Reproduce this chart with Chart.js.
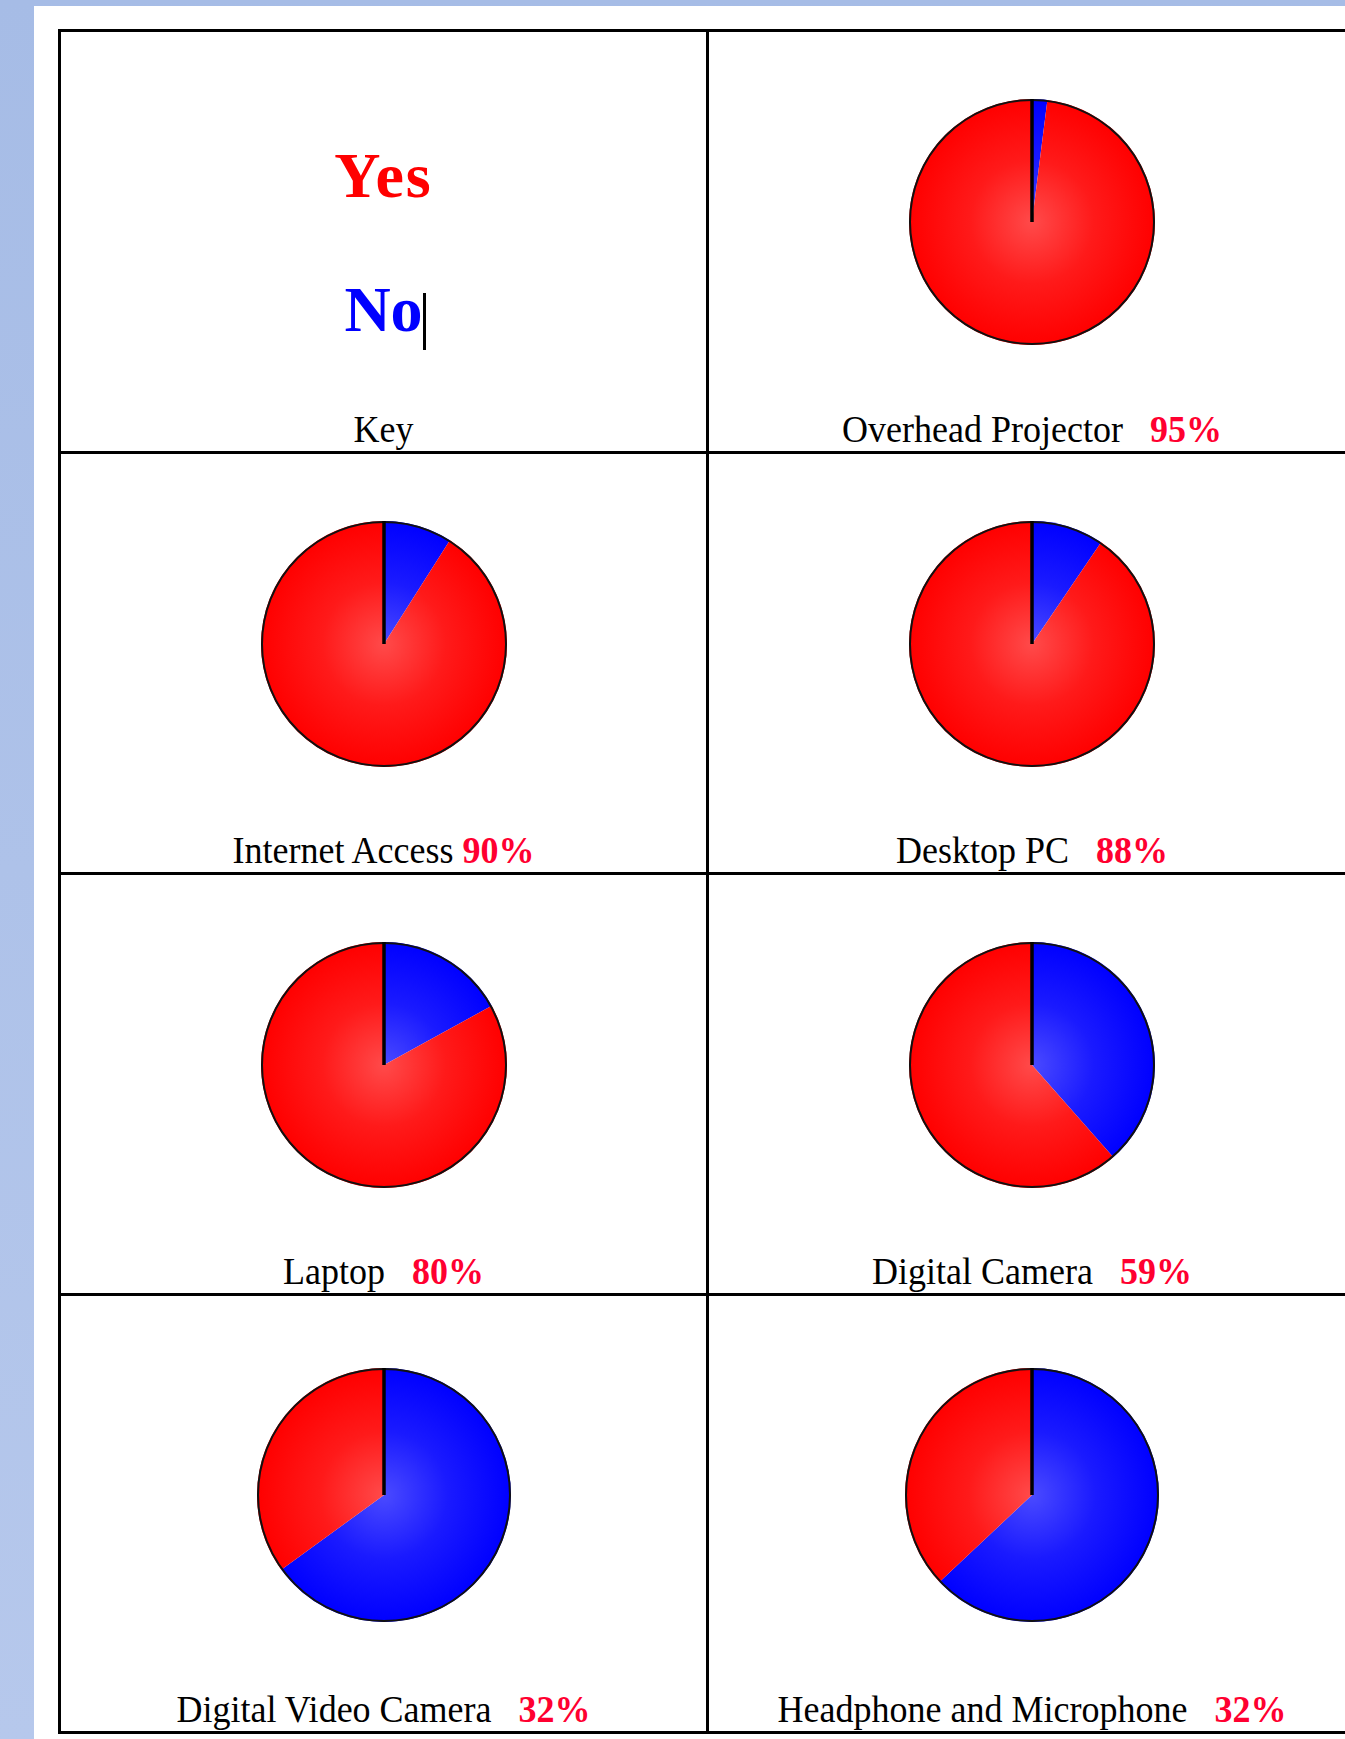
<!DOCTYPE html>
<html>
<head>
<meta charset="utf-8">
<script src="https://cdn.jsdelivr.net/npm/chart.js@4.4.0/dist/chart.umd.min.js"></script>
<style>
    body { margin: 0; width: 1345px; height: 1739px; overflow: hidden; background: linear-gradient(#a6bce6, #b6c8ec); font-family: "Liberation Serif", "Times New Roman", serif; }
    #hoja { position: absolute; left: 34px; top: 6px; right: 0; bottom: 0; background: #fff; }
    #tabla { position: absolute; left: 58px; top: 29px; width: 1297px; height: 1702px; border-left: 3px solid #000; border-top: 3px solid #000; }
    .celda { position: absolute; box-sizing: border-box; border-right: 3px solid #000; border-bottom: 3px solid #000; }
    .pie { position: absolute; }
    .etiqueta { position: absolute; left: 0; right: 0; bottom: 3px; text-align: center; font-size: 36px; line-height: 36px; white-space: pre; color: #000; transform: scaleY(1.08); transform-origin: 50% 84%; }
    .etiqueta b { color: #ff0030; }
    .clave { position: absolute; left: 0; right: 0; text-align: center; font-size: 64px; line-height: 64px; font-weight: bold; }
</style>
</head>
<body>
<div id="hoja"></div>
<div id="tabla"></div>
<script>
// Datos de la encuesta
const categorias = ['Overhead Projector', 'Internet Access', 'Desktop PC', 'Laptop', 'Digital Camera', 'Digital Video Camera', 'Headphone and Microphone'];
// porcentaje "Yes" escrito en cada etiqueta
const porcentajeTexto = [95, 90, 88, 80, 59, 32, 32];
// tamaño de los sectores tal como se ven dibujados (No / Yes)
const sectorNo = [2, 9, 9.5, 17, 38.5, 65, 63];
const sectorSi = [98, 91, 90.5, 83, 61.5, 35, 37];
const espacios = ['   ', ' ', '   ', '   ', '   ', '   ', '   '];
const leyenda = ['Yes', 'No'];

// Colores: [claro, medio, base] para No (azul) y Sí (rojo)
const colores = [
    ['#4a4aff', '#1a1aff', '#0000ff'],
    ['#ff4a4a', '#ff1a1a', '#ff0000']
];

// Relleno con un leve degradado como en la imagen original
const degradado = (ctx) => {
    const [claro, medio, base] = colores[ctx.dataIndex] || colores[1];
    const chart = ctx.chart;
    const area = chart.chartArea;
    if (!area) return base;
    const cx = (area.left + area.right) / 2;
    const cy = (area.top + area.bottom) / 2;
    const r = Math.min(area.width, area.height) / 2;
    const g = chart.ctx.createRadialGradient(cx, cy, 0, cx, cy, r);
    g.addColorStop(0, claro);
    g.addColorStop(0.5, medio);
    g.addColorStop(1, base);
    return g;
};

// Contorno negro y línea de inicio a las 12
const contorno = {
    id: 'contorno',
    afterDatasetsDraw(chart) {
        const arco = chart.getDatasetMeta(0).data[0];
        if (!arco) return;
        const { x, y, outerRadius } = arco.getProps(['x', 'y', 'outerRadius'], true);
        const ctx = chart.ctx;
        ctx.save();
        ctx.strokeStyle = '#111';
        ctx.lineWidth = 2;
        ctx.beginPath();
        ctx.arc(x, y, outerRadius - 1, 0, Math.PI * 2);
        ctx.stroke();
        ctx.lineWidth = 3.5;
        ctx.strokeStyle = '#000';
        ctx.beginPath();
        ctx.moveTo(x, y);
        ctx.lineTo(x, y - outerRadius);
        ctx.stroke();
        ctx.restore();
    }
};

const anchos = [648, 649];
const altos = [422, 421, 421, 438];
const tabla = document.getElementById('tabla');

const crearPie = (celda, i, fila, anchoInterior) => {
    const lado = fila === 3 ? 254 : 246;
    const centroY = fila === 3 ? 199 : 190;
    const caja = document.createElement('div');
    caja.className = 'pie';
    caja.style.width = lado + 'px';
    caja.style.height = lado + 'px';
    caja.style.left = ((anchoInterior - lado) / 2) + 'px';
    caja.style.top = (centroY - lado / 2) + 'px';
    const canvas = document.createElement('canvas');
    caja.appendChild(canvas);
    celda.appendChild(caja);

    new Chart(canvas.getContext('2d'), {
        type: 'pie',
        data: {
            labels: ['No', 'Yes'],
            datasets: [{
                data: [sectorNo[i], sectorSi[i]],
                backgroundColor: degradado,
                borderWidth: 0
            }]
        },
        options: {
            responsive: true,
            maintainAspectRatio: false,
            animation: false,
            layout: { padding: 0 },
            plugins: { legend: { display: false }, tooltip: { enabled: false } }
        },
        plugins: [contorno]
    });

    const etiqueta = document.createElement('div');
    etiqueta.className = 'etiqueta';
    etiqueta.textContent = categorias[i] + espacios[i];
    const pct = document.createElement('b');
    pct.textContent = porcentajeTexto[i] + '%';
    etiqueta.appendChild(pct);
    celda.appendChild(etiqueta);
};

const crearClave = (celda) => {
    const si = document.createElement('div');
    si.className = 'clave';
    si.style.top = '112px';
    si.style.color = '#ff0000';
    si.style.letterSpacing = '2px';
    si.textContent = leyenda[0];
    celda.appendChild(si);

    const no = document.createElement('div');
    no.className = 'clave';
    no.style.top = '246px';
    no.style.color = '#0000ff';
    no.textContent = leyenda[1];
    celda.appendChild(no);

    // el cursor de texto que aparece en la captura
    const cursor = document.createElement('div');
    cursor.style.cssText = 'position:absolute;left:362px;top:261px;width:3px;height:57px;background:#000;';
    celda.appendChild(cursor);

    const etiqueta = document.createElement('div');
    etiqueta.className = 'etiqueta';
    etiqueta.textContent = 'Key';
    celda.appendChild(etiqueta);
};

window.addEventListener('DOMContentLoaded', () => {
    let top = 0;
    for (let fila = 0; fila < 4; fila++) {
        for (let col = 0; col < 2; col++) {
            const celda = document.createElement('div');
            celda.className = 'celda';
            celda.style.left = (col === 0 ? 0 : anchos[0]) + 'px';
            celda.style.top = top + 'px';
            celda.style.width = anchos[col] + 'px';
            celda.style.height = altos[fila] + 'px';
            tabla.appendChild(celda);

            const indice = fila * 2 + col - 1;
            if (indice < 0) crearClave(celda);
            else crearPie(celda, indice, fila, anchos[col] - 3);
        }
        top += altos[fila];
    }
});
</script>
</body>
</html>
